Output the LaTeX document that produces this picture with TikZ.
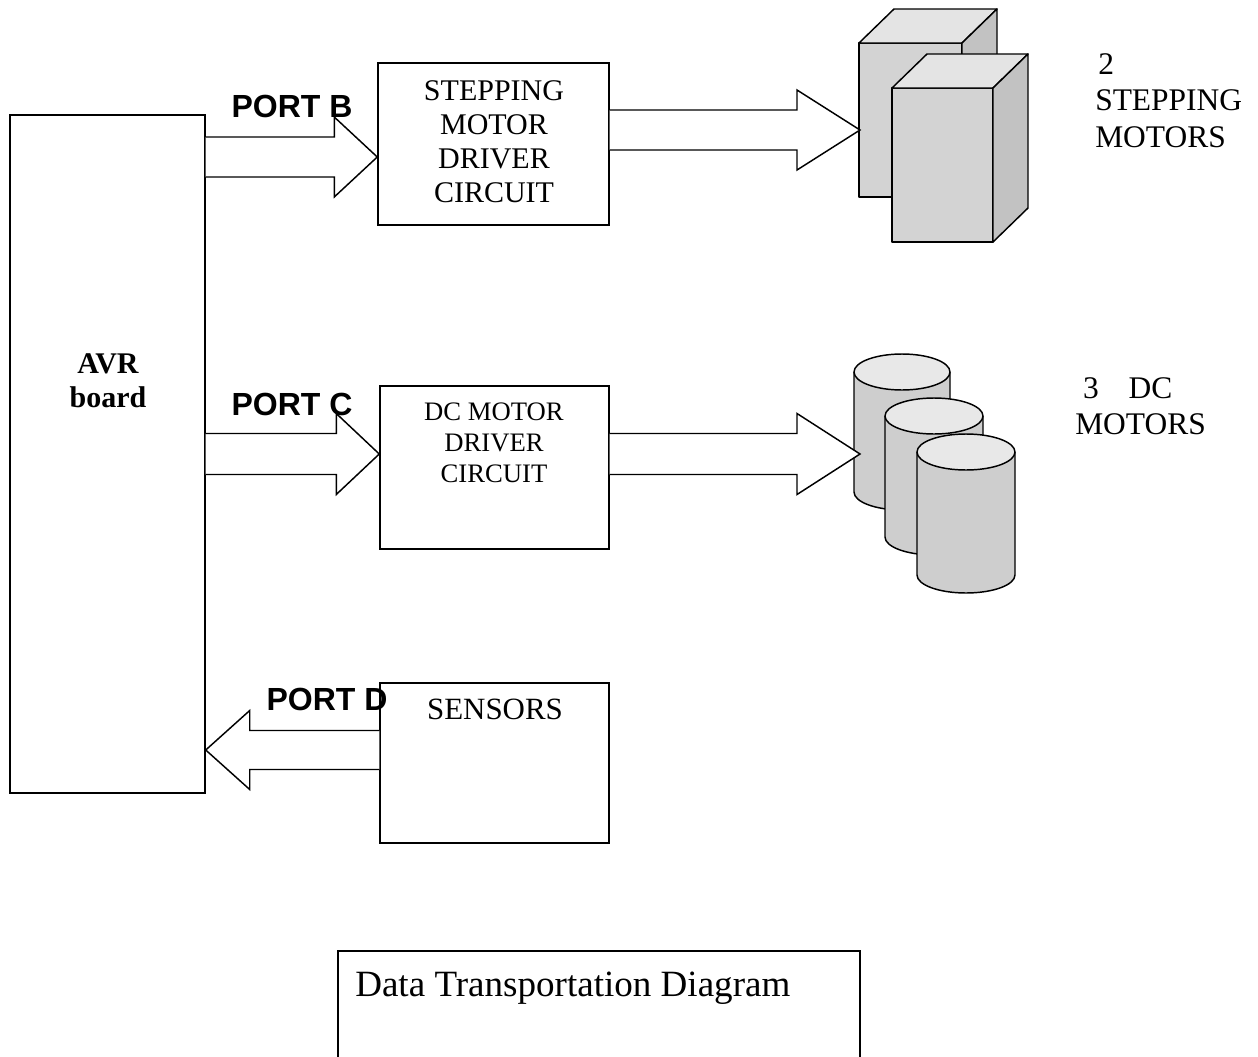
\documentclass[tikz,border=0pt]{standalone}
\usepackage{fontspec}
\setmainfont{Liberation Serif}
\newfontfamily\arialfont{Liberation Sans}
\usetikzlibrary{calc}

\definecolor{facefront}{HTML}{D3D3D3}
\definecolor{facetop}{HTML}{E4E4E4}
\definecolor{faceside}{HTML}{C2C2C2}
\definecolor{cylbody}{HTML}{CECECE}
\definecolor{cyltop}{HTML}{E8E8E8}

% right-pointing block arrow: tail, tip, half shaft, half head, head length
\newcommand\blockright[5]{%
  \path[blockarrow] ($(#1)+(0,-#3)$) -- ($(#2)+(-#5,-#3)$) -- ($(#2)+(-#5,-#4)$) -- (#2)
    -- ($(#2)+(-#5,#4)$) -- ($(#2)+(-#5,#3)$) -- ($(#1)+(0,#3)$);}
% left-pointing block arrow: tail, tip, half shaft, half head, head length
\newcommand\blockleft[5]{%
  \path[blockarrow] ($(#1)+(0,-#3)$) -- ($(#2)+(#5,-#3)$) -- ($(#2)+(#5,-#4)$) -- (#2)
    -- ($(#2)+(#5,#4)$) -- ($(#2)+(#5,#3)$) -- ($(#1)+(0,#3)$);}
% box-shaped motor: front face corners x1,y1,x2,y2 with a fixed depth offset
\newcommand\drawprism[4]{%
  \filldraw[solid3d, fill=facefront] (#1,#2) rectangle (#3,#4);
  \filldraw[solid3d, fill=facetop] (#1,#2) -- (#1+35,#2-34) -- (#3+35,#2-34) -- (#3,#2) -- cycle;
  \filldraw[solid3d, fill=faceside] (#3,#2) -- (#3+35,#2-34) -- (#3+35,#4-34) -- (#3,#4) -- cycle;}
% cylinder motor: centre x, top y, bottom y, x radius, y radius
\newcommand\drawcyl[5]{%
  \fill[cylbody] (#1-#4,#2) -- (#1-#4,#3) arc[start angle=180,end angle=0,x radius=#4,y radius=#5] -- (#1+#4,#2) -- cycle;
  \draw[solid3d] (#1-#4,#2) -- (#1-#4,#3) arc[start angle=180,end angle=0,x radius=#4,y radius=#5] -- (#1+#4,#2);
  \filldraw[solid3d, fill=cyltop] (#1,#2) ellipse[x radius=#4,y radius=#5];}

\begin{document}
\begin{tikzpicture}[x=0.75pt,y=-0.75pt,
  box/.style={draw, line width=1.1pt, inner sep=0pt, fill=white},
  blockarrow/.style={draw, fill=white, line width=1.1pt, line join=miter},
  solid3d/.style={draw, line width=1.1pt, line join=round},
  portlbl/.style={font=\arialfont\bfseries\fontsize{24}{28}\selectfont, inner sep=0pt},
  drvtext/.style={align=center, inner sep=0pt, font=\fontsize{22.5}{25.5}\selectfont},
  dctext/.style={align=center, inner sep=0pt, font=\fontsize{20}{23.25}\selectfont},
  sidetext/.style={align=left, inner sep=0pt, anchor=west, font=\fontsize{23.6}{27.4}\selectfont},
]
\useasboundingbox (0,0) rectangle (1258,1057);

% ---- motors ----
\drawprism{859}{43}{962}{197}
\drawprism{892}{88}{993}{242}
\drawcyl{902}{372}{492}{48}{18}
\drawcyl{934}{416}{537}{49}{18}
\drawcyl{966}{452}{575}{49}{18}
\coordinate (stepin) at (860,130);
\coordinate (dcin) at (860,454);

% ---- blocks ----
\node[box, minimum width=146.25pt, minimum height=508.5pt] (avr) at (107.5,454) {};
\node[inner sep=0pt, align=center, font=\bfseries\fontsize{22.5}{25.5}\selectfont] (avrlbl) at (108,381) {AVR\\board};

\node[box, minimum width=173.25pt, minimum height=121.5pt] (drv1) at (493.5,144) {};
\node[drvtext] (drv1lbl) at (494,142) {STEPPING\\MOTOR\\DRIVER\\CIRCUIT};

\node[box, minimum width=171.75pt, minimum height=122.25pt] (drv2) at (494.5,467.5) {};
\node[dctext] (drv2lbl) at (494,443) {DC MOTOR\\DRIVER\\CIRCUIT};

\node[box, minimum width=171.75pt, minimum height=120pt] (sens) at (494.5,763) {};
\node[inner sep=0pt, font=\fontsize{23.2}{27}\selectfont] (senslbl) at (495,709) {SENSORS};

% ---- block arrows ----
\coordinate (tipB) at ($(drv1.west)+(0,13)$);
\coordinate (tailB) at (avr.east |- tipB);
\blockright{tailB}{tipB}{20}{40}{43}

\coordinate (tailS) at (drv1.east |- stepin);
\blockright{tailS}{stepin}{20}{40}{63}

\coordinate (tipC) at ($(drv2.west)+(0,-13.5)$);
\coordinate (tailC) at (avr.east |- tipC);
\blockright{tailC}{tipC}{20.5}{40.5}{43}

\coordinate (tailM) at (drv2.east |- dcin);
\blockright{tailM}{dcin}{20.5}{40.5}{63}

\coordinate (tailD) at ($(sens.west)+(0,-13)$);
\coordinate (tipD) at (avr.east |- tailD);
\blockleft{tailD}{tipD}{19.5}{39.5}{44}

% ---- port labels ----
\node[portlbl] (portb) at (292,106) {PORT B};
\node[portlbl] (portc) at (292,404) {PORT C};
\node[portlbl] (portd) at (327,699) {PORT D};

% ---- motor captions ----
\node[sidetext] (steplbl) at (1095,100.5) {\hspace{0.1em}2\\STEPPING\\MOTORS};
\node[sidetext] (dclbl) at (1075,406) {\hspace{0.25em}3\hspace{0.95em}DC\\MOTORS};

% ---- diagram title ----
\draw[line width=1.1pt] (338,1062) -- (338,951) -- (860,951) -- (860,1062);
\node[anchor=base west, inner sep=0pt, font=\fontsize{27.8}{32}\selectfont] (title) at (355,996) {Data Transportation Diagram};
\end{tikzpicture}
\end{document}
